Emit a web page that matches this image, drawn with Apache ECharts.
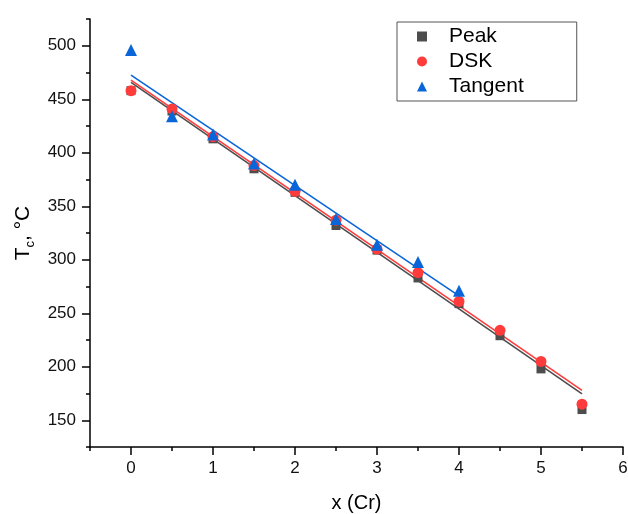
<!DOCTYPE html>
<html>
<head>
<meta charset="utf-8">
<script src="https://cdn.jsdelivr.net/npm/echarts@6/dist/echarts.min.js"></script>
<style>html,body{margin:0;padding:0;background:#fff;}#c{width:628px;height:514px;}</style>
</head>
<body>
<div id="c"></div>
<script>
// x (Cr) positions
const xValues = [0, 0.5, 1, 1.5, 2, 2.5, 3, 3.5, 4, 4.5, 5, 5.5];
// Tc values (°C)
const peakValues    = [458, 439, 413, 385, 363, 332, 309, 283, 259, 229, 198, 160];
const dskValues     = [458, 441, 415, 388, 364, 337, 310, 288, 261, 234, 205, 165];
const tangentX      = [0, 0.5, 1, 1.5, 2, 2.5, 3, 3.5, 4];
const tangentValues = [496, 434, 417, 390, 370, 338, 314, 298, 271];
// linear fit lines (end points)
const peakFitX = [0, 5.5];
const peakFitY = [465.7, 174.7];
const dskFitX = [0, 5.5];
const dskFitY = [467.8, 177.9];
const tangentFitX = [0, 4];
const tangentFitY = [472.5, 266.3];
// ticks
const xMajorTicks = [0, 1, 2, 3, 4, 5, 6];
const xMinorTicks = [-0.5, 0.5, 1.5, 2.5, 3.5, 4.5, 5.5];
const yMajorTicks = [150, 200, 250, 300, 350, 400, 450, 500];
const yMinorTicks = [125, 175, 225, 275, 325, 375, 425, 475, 525];
const seriesNames = ['Peak', 'DSK', 'Tangent'];

const colors = { peak: '#4d4d4d', dsk: '#ff3b3b', tangent: '#0a66d8' };
const zip = (xs, ys) => xs.map((x, i) => [x, ys[i]]);
const font = 'Liberation Sans, Arial, sans-serif';

const chart = echarts.init(document.getElementById('c'), null, { renderer: 'canvas' });
const xRange = { min: -0.5, max: 6 };
const yRange = { min: 125, max: 525 };

chart.setOption({
  animation: false,
  backgroundColor: '#fff',
  grid: { left: 90, right: 5, top: 19, bottom: 67, containLabel: false, outerBoundsMode: 'none' },
  legend: {
    orient: 'vertical', left: 397, top: 22,
    padding: [4, 53, 4, 20], itemGap: 4, itemWidth: 10, itemHeight: 10,
    borderColor: '#555', borderWidth: 1,
    data: seriesNames,
    textStyle: { fontFamily: font, fontSize: 21, color: '#000', lineHeight: 20, padding: [0, 0, 0, 17] }
  },
  xAxis: [{
    type: 'value', ...xRange, position: 'bottom',
    name: 'x (Cr)', nameLocation: 'middle', nameGap: 46,
    nameTextStyle: { fontFamily: font, fontSize: 20, color: '#000' },
    axisLine: { show: true, onZero: false, lineStyle: { color: '#000', width: 1.5 } },
    axisTick: { show: true, length: 8, customValues: xMajorTicks, lineStyle: { color: '#000', width: 1.5 } },
    axisLabel: { customValues: xMajorTicks, margin: 13, fontFamily: font, fontSize: 17, color: '#111' },
    splitLine: { show: false }
  }, {
    type: 'value', ...xRange, position: 'bottom',
    axisLine: { show: false, onZero: false },
    axisTick: { show: true, length: 4, customValues: xMinorTicks, lineStyle: { color: '#000', width: 1.5 } },
    axisLabel: { show: false },
    splitLine: { show: false }
  }],
  yAxis: [{
    type: 'value', ...yRange, position: 'left',
    name: '{t|T}{s|c}{t|, °C}', nameLocation: 'middle', nameGap: 51,
    nameTextStyle: {
      fontFamily: font, color: '#000',
      rich: {
        t: { fontFamily: font, fontSize: 21, lineHeight: 28, verticalAlign: 'middle', color: '#000' },
        s: { fontFamily: font, fontSize: 13, lineHeight: 14, verticalAlign: 'bottom', color: '#000' }
      }
    },
    axisLine: { show: true, onZero: false, lineStyle: { color: '#000', width: 1.5 } },
    axisTick: { show: true, length: 8, customValues: yMajorTicks, lineStyle: { color: '#000', width: 1.5 } },
    axisLabel: { customValues: yMajorTicks, margin: 14, fontFamily: font, fontSize: 17, color: '#111' },
    splitLine: { show: false }
  }, {
    type: 'value', ...yRange, position: 'left',
    axisLine: { show: false, onZero: false },
    axisTick: { show: true, length: 4, customValues: yMinorTicks, lineStyle: { color: '#000', width: 1.5 } },
    axisLabel: { show: false },
    splitLine: { show: false }
  }],
  series: [
    { name: 'PeakFit', type: 'line', data: zip(peakFitX, peakFitY), symbol: 'none', z: 1,
      lineStyle: { color: colors.peak, width: 1.6 }, silent: true },
    { name: 'DSKFit', type: 'line', data: zip(dskFitX, dskFitY), symbol: 'none', z: 1,
      lineStyle: { color: colors.dsk, width: 1.6 }, silent: true },
    { name: 'TangentFit', type: 'line', data: zip(tangentFitX, tangentFitY), symbol: 'none', z: 1,
      lineStyle: { color: colors.tangent, width: 1.6 }, silent: true },
    { name: seriesNames[0], type: 'scatter', data: zip(xValues, peakValues), symbol: 'rect', symbolSize: 9, z: 3,
      itemStyle: { color: colors.peak, opacity: 1 } },
    { name: seriesNames[1], type: 'scatter', data: zip(xValues, dskValues), symbol: 'circle', symbolSize: 11, z: 4,
      itemStyle: { color: colors.dsk, opacity: 1 } },
    { name: seriesNames[2], type: 'scatter', data: zip(tangentX, tangentValues), symbol: 'triangle', symbolSize: 12, z: 5,
      itemStyle: { color: colors.tangent, opacity: 1 } }
  ]
});
</script>
</body>
</html>
